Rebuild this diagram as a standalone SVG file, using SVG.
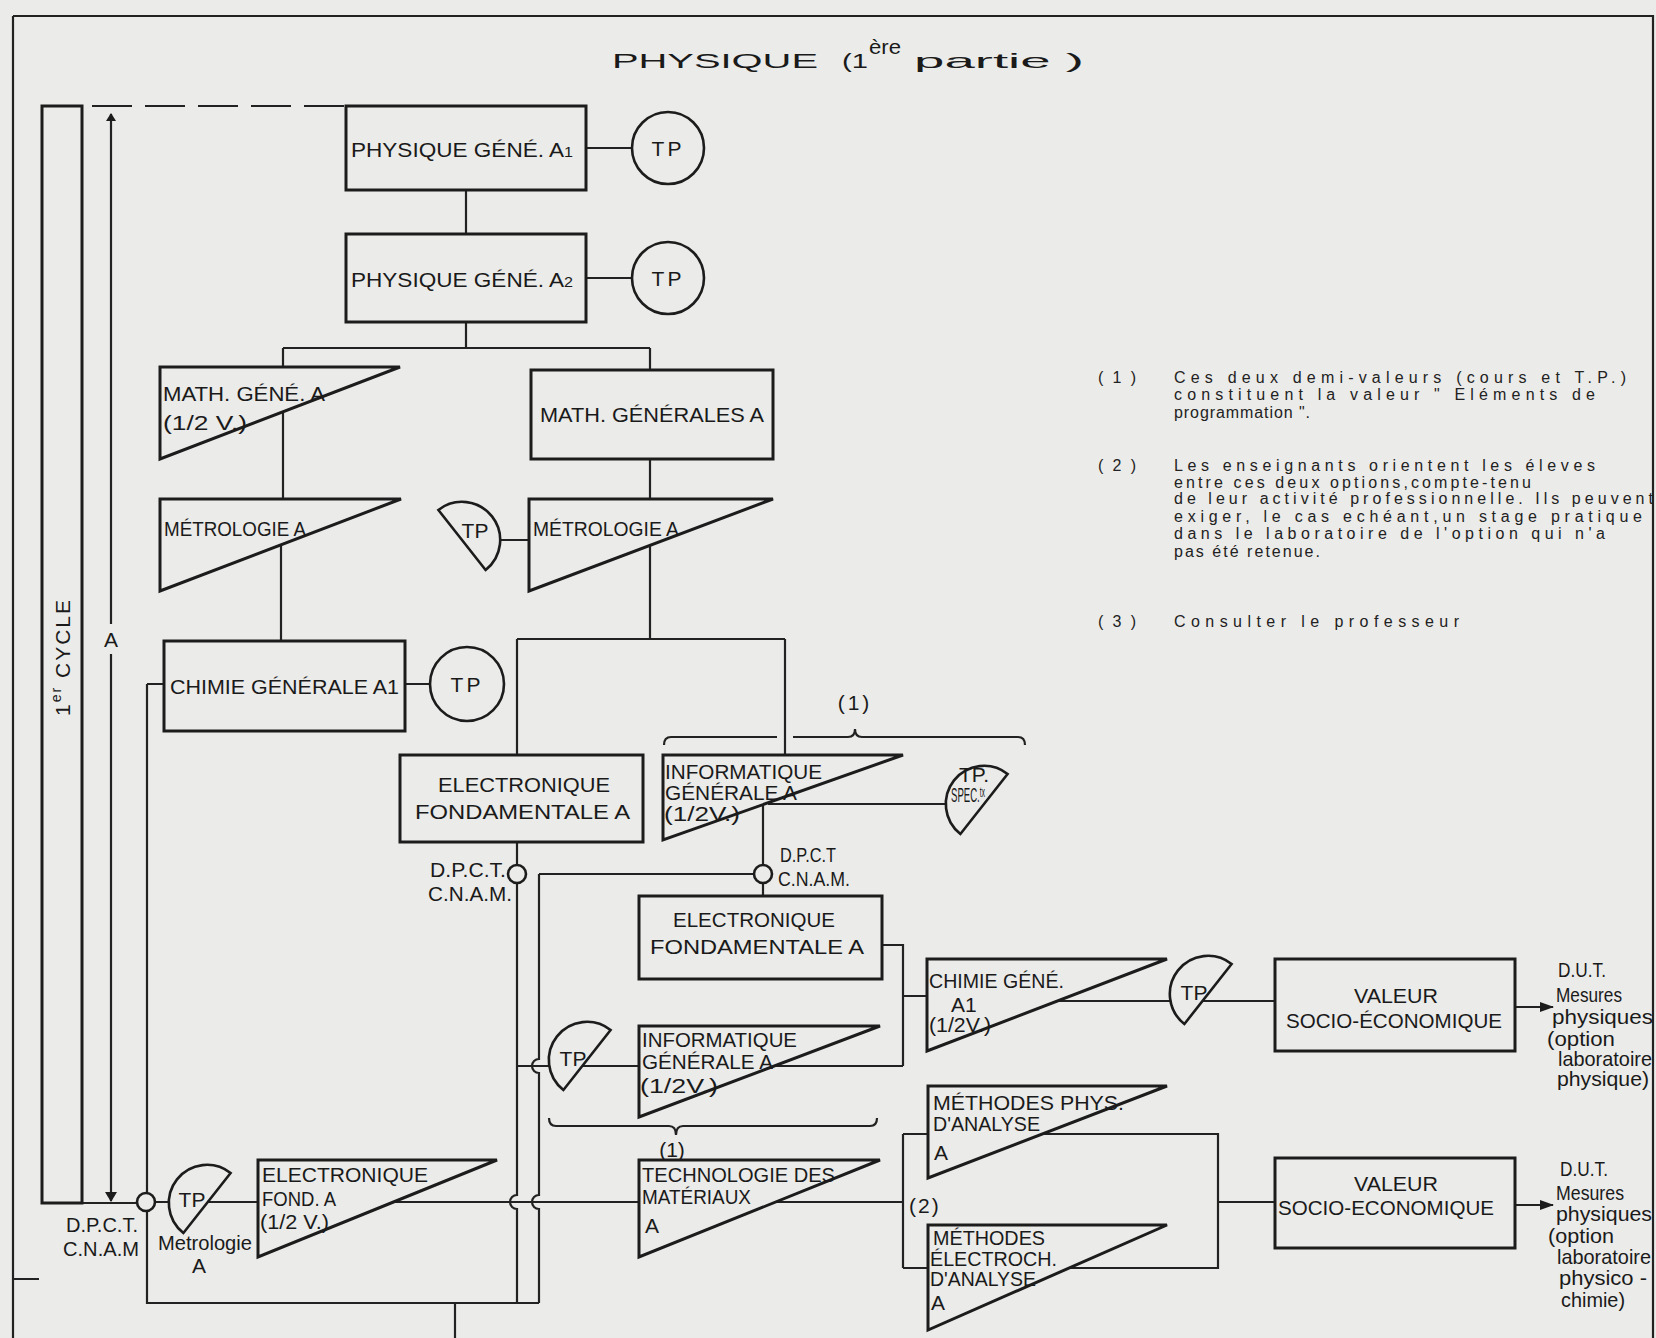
<svg xmlns="http://www.w3.org/2000/svg" width="1656" height="1338" viewBox="0 0 1656 1338">
<defs>
<style>
.bg{fill:#ebebe9}
.bx{fill:none;stroke:#1c1c1c;stroke-width:3}
.ln{fill:none;stroke:#222;stroke-width:2.2}
.tpf{fill:#ebebe9;stroke:#1c1c1c;stroke-width:2.6}
.t{font-family:"Liberation Sans",Arial,sans-serif;fill:#1a1a1a;font-size:21px}
.fn{font-family:"Liberation Sans",Arial,sans-serif;fill:#222;font-size:16px}
.m{text-anchor:middle}
.e{text-anchor:end}
</style>
<path id="tpR" d="M23.6,-30 A38,38 0 0 0 -23.6,30 Z"/>
<marker id="ah" markerWidth="14" markerHeight="10" refX="13" refY="5" orient="auto" markerUnits="userSpaceOnUse">
<path d="M0,0 L14,5 L0,10 Z" fill="#1c1c1c"/>
</marker>
<marker id="ahs" markerWidth="10" markerHeight="12" refX="9" refY="6" orient="auto" markerUnits="userSpaceOnUse">
<path d="M0,0 L10,6 L0,12 Z" fill="#1c1c1c"/>
</marker>
<marker id="ahst" markerWidth="8" markerHeight="10" refX="1" refY="5" orient="auto" markerUnits="userSpaceOnUse">
<path d="M8,0 L0,5 L8,10 Z" fill="#1c1c1c"/>
</marker>
</defs>
<rect class="bg" x="0" y="0" width="1656" height="1338"/>

<!-- frame -->
<g id="frame">
<path class="ln" d="M13,16 V1338 M13,16 H1653 V1338 M13,1279 H39"/>
</g>

<!-- title -->
<g id="title">
<text class="t" x="612" y="68" font-size="40" textLength="206" lengthAdjust="spacingAndGlyphs">PHYSIQUE</text>
<text class="t" x="842" y="68" font-size="40" textLength="26" lengthAdjust="spacingAndGlyphs">(1</text>
<text class="t" x="869" y="54" font-size="16" textLength="32" lengthAdjust="spacingAndGlyphs">ère</text>
<text class="t" x="914" y="68" font-size="40" textLength="170" lengthAdjust="spacingAndGlyphs">partie )</text>
</g>

<!-- connectors -->
<g id="connectors">
<path class="ln" d="M92,106 H346" stroke-dasharray="40 13"/>
<path class="ln" d="M111,114 V624" marker-start="url(#ahst)"/>
<path class="ln" d="M111,654 V1201" marker-end="url(#ahs)"/>
<path class="ln" d="M82,1203 H137"/>
<path class="ln" d="M147,684 H164 M147,684 V1193 M147,1211 V1303 H539 M455,1303 V1338"/>
<path class="ln" d="M155,1202 H258 M393,1202 H639 M776,1202 H903"/>
<path class="ln" d="M586,148 H632 M466,190 V234 M586,278 H632 M466,322 V348 M283,348 H650 M283,348 V367 M650,348 V370"/>
<path class="ln" d="M283,412 V499 M650,459 V499 M281,545 V641 M498,540 H529 M405,684 H430"/>
<path class="ln" d="M650,545 V639 M517,639 H785 M517,639 V755 M785,639 V755"/>
<path class="ln" d="M517,842 V865 M763,805 V865 M763,883 V896 M754,874 H539"/>
<path class="ln" d="M517,883 V1195 A7,7 0 0 0 517,1209 V1303"/>
<path class="ln" d="M539,874 V1059 A7,7 0 0 0 539,1073 V1195 A7,7 0 0 0 539,1209 V1303"/>
<path class="ln" d="M768,804 H950"/>
<path class="ln" d="M517,1066 H639 M774,1066 H903 M882,945 H903 V1066 M903,996 H927"/>
<path class="ln" d="M1057,1001 H1275"/>
<path class="ln" d="M903,1134 V1268 M903,1134 H928 M903,1268 H928 M1042,1134 H1218 V1268 H1069 M1218,1202 H1275"/>
<path class="ln" d="M1515,1007 H1553" marker-end="url(#ah)"/>
<path class="ln" d="M1515,1205 H1553" marker-end="url(#ah)"/>
<path class="ln" d="M664,745 Q664,737 671,737 H777 M793,737 H848 Q855,737 855,729 Q855,737 862,737 H1018 Q1025,737 1025,745"/>
<path class="ln" d="M549,1118 Q549,1126 556,1126 H669 Q676,1126 676,1135 Q676,1126 683,1126 H870 Q877,1126 877,1118"/>
</g>

<!-- left cycle bar -->
<g id="cycle">
<rect class="bx" x="42" y="106" width="40" height="1097"/>
<text class="t" transform="translate(70,657) rotate(-90)" text-anchor="middle" font-size="24" letter-spacing="2">1<tspan font-size="14" dy="-9">er</tspan><tspan dy="9"> CYCLE</tspan></text>
<text class="t m" x="111" y="647" font-size="22">A</text>
</g>

<g id="dpct-left">
<circle class="tpf" cx="146" cy="1202" r="9"/>
<text class="t e" x="138" y="1232" font-size="20" textLength="72" lengthAdjust="spacingAndGlyphs">D.P.C.T.</text>
<text class="t e" x="139" y="1256" font-size="20" textLength="76" lengthAdjust="spacingAndGlyphs">C.N.A.M</text>
</g>

<g id="tp-metro-bl">
<use href="#tpR" class="tpf" transform="translate(207,1203)"/>
<text class="t m" x="192" y="1207" font-size="21">TP</text>
<text class="t" x="158" y="1250" font-size="19" textLength="94" lengthAdjust="spacingAndGlyphs">Metrologie</text>
<text class="t m" x="199" y="1273" font-size="20">A</text>
</g>

<g id="phys-a1">
<rect class="bx" x="346" y="106" width="240" height="84"/>
<text class="t" x="351" y="157" textLength="222" lengthAdjust="spacingAndGlyphs">PHYSIQUE GÉNÉ. A<tspan font-size="15">1</tspan></text>
</g>
<g id="tp-a1">
<circle class="tpf" cx="668" cy="148" r="36"/>
<text class="t m" x="668" y="156" font-size="22" letter-spacing="3">TP</text>
</g>

<g id="phys-a2">
<rect class="bx" x="346" y="234" width="240" height="88"/>
<text class="t" x="351" y="287" textLength="222" lengthAdjust="spacingAndGlyphs">PHYSIQUE GÉNÉ. A<tspan font-size="15">2</tspan></text>
</g>
<g id="tp-a2">
<circle class="tpf" cx="668" cy="278" r="36"/>
<text class="t m" x="668" y="286" font-size="22" letter-spacing="3">TP</text>
</g>

<g id="math-gene">
<polygon class="bx" points="160,367 160,459 400,367"/>
<text class="t" x="163" y="401" textLength="162" lengthAdjust="spacingAndGlyphs">MATH. GÉNÉ. A</text>
<text class="t" x="163" y="430" textLength="84" lengthAdjust="spacingAndGlyphs">(1/2 V.)</text>
</g>

<g id="math-generales">
<rect class="bx" x="531" y="370" width="242" height="89"/>
<text class="t" x="540" y="422" textLength="224" lengthAdjust="spacingAndGlyphs">MATH. GÉNÉRALES A</text>
</g>

<g id="metro-left">
<polygon class="bx" points="160,499 160,591 401,499"/>
<text class="t" x="164" y="536" textLength="142" lengthAdjust="spacingAndGlyphs">MÉTROLOGIE A</text>
</g>

<g id="tp-metro">
<use href="#tpR" class="tpf" transform="translate(462,540) scale(-1,1)"/>
<text class="t m" x="475" y="538" font-size="21">TP</text>
</g>

<g id="metro-right">
<polygon class="bx" points="529,499 529,591 773,499"/>
<text class="t" x="533" y="536" textLength="146" lengthAdjust="spacingAndGlyphs">MÉTROLOGIE A</text>
</g>

<g id="chimie-a1">
<rect class="bx" x="164" y="641" width="241" height="90"/>
<text class="t" x="170" y="694" textLength="229" lengthAdjust="spacingAndGlyphs">CHIMIE  GÉNÉRALE A1</text>
</g>
<g id="tp-chimie">
<circle class="tpf" cx="467" cy="684" r="37"/>
<text class="t m" x="467" y="692" font-size="22" letter-spacing="3">TP</text>
</g>

<g id="elec-fond-1">
<rect class="bx" x="400" y="755" width="243" height="87"/>
<text class="t m" x="524" y="792" textLength="172" lengthAdjust="spacingAndGlyphs">ELECTRONIQUE</text>
<text class="t" x="415" y="819" textLength="215" lengthAdjust="spacingAndGlyphs">FONDAMENTALE   A</text>
</g>

<g id="dpct-mid">
<circle class="tpf" cx="517" cy="874" r="9"/>
<text class="t e" x="506" y="877" font-size="20" textLength="76" lengthAdjust="spacingAndGlyphs">D.P.C.T.</text>
<text class="t e" x="512" y="901" font-size="20" textLength="84" lengthAdjust="spacingAndGlyphs">C.N.A.M.</text>
</g>

<g id="info-1">
<polygon class="bx" points="663,755 663,840 903,755"/>
<text class="t" x="665" y="779" font-size="19" textLength="157" lengthAdjust="spacingAndGlyphs">INFORMATIQUE</text>
<text class="t" x="665" y="800" font-size="19" textLength="132" lengthAdjust="spacingAndGlyphs">GÉNÉRALE A</text>
<text class="t" x="664" y="821" font-size="19" textLength="76" lengthAdjust="spacingAndGlyphs">(1/2V.)</text>
<text class="t m" x="855" y="710" font-size="21" letter-spacing="3">(1)</text>
</g>

<g id="tp-spec">
<use href="#tpR" class="tpf" transform="translate(984,804)"/>
<text class="t m" x="974" y="782" font-size="14">TP.</text>
<text class="t m" x="968" y="802" font-size="10" textLength="34" lengthAdjust="spacingAndGlyphs">SPEC.ᵗˣ</text>
</g>

<g id="dpct-right">
<circle class="tpf" cx="763" cy="874" r="9"/>
<text class="t" x="780" y="862" font-size="20" textLength="56" lengthAdjust="spacingAndGlyphs">D.P.C.T</text>
<text class="t" x="778" y="886" font-size="20" textLength="72" lengthAdjust="spacingAndGlyphs">C.N.A.M.</text>
</g>

<g id="elec-fond-2">
<rect class="bx" x="639" y="896" width="243" height="83"/>
<text class="t m" x="754" y="927" textLength="162" lengthAdjust="spacingAndGlyphs">ELECTRONIQUE</text>
<text class="t" x="650" y="954" textLength="214" lengthAdjust="spacingAndGlyphs">FONDAMENTALE   A</text>
</g>

<g id="info-2">
<polygon class="bx" points="639,1026 639,1117 880,1026"/>
<text class="t" x="642" y="1047" font-size="19" textLength="155" lengthAdjust="spacingAndGlyphs">INFORMATIQUE</text>
<text class="t" x="642" y="1069" font-size="19" textLength="131" lengthAdjust="spacingAndGlyphs">GÉNÉRALE A</text>
<text class="t" x="640" y="1093" font-size="19" textLength="78" lengthAdjust="spacingAndGlyphs">(1/2V.)</text>
<text class="t m" x="672" y="1157" font-size="20">(1)</text>
</g>
<g id="tp-info">
<use href="#tpR" class="tpf" transform="translate(587,1060)"/>
<text class="t m" x="573" y="1066" font-size="21">TP</text>
</g>

<g id="elec-fond-half">
<polygon class="bx" points="258,1160 258,1257 497,1160"/>
<text class="t" x="262" y="1182" textLength="166" lengthAdjust="spacingAndGlyphs">ELECTRONIQUE</text>
<text class="t" x="262" y="1206" textLength="74" lengthAdjust="spacingAndGlyphs">FOND. A</text>
<text class="t" x="260" y="1229" font-size="19" textLength="69" lengthAdjust="spacingAndGlyphs">(1/2 V.)</text>
</g>

<g id="techno">
<polygon class="bx" points="639,1160 639,1257 880,1160"/>
<text class="t" x="642" y="1182" textLength="193" lengthAdjust="spacingAndGlyphs">TECHNOLOGIE DES</text>
<text class="t" x="642" y="1204" textLength="109" lengthAdjust="spacingAndGlyphs">MATÉRIAUX</text>
<text class="t" x="645" y="1233">A</text>
</g>

<g id="chimie-gene">
<polygon class="bx" points="927,959 927,1051 1167,959"/>
<text class="t" x="929" y="988" textLength="135" lengthAdjust="spacingAndGlyphs">CHIMIE GÉNÉ.</text>
<text class="t" x="951" y="1012" font-size="18">A1</text>
<text class="t" x="929" y="1032" font-size="15" textLength="62" lengthAdjust="spacingAndGlyphs">(1/2V.)</text>
</g>
<g id="tp-chimie-gene">
<use href="#tpR" class="tpf" transform="translate(1208,994)"/>
<text class="t m" x="1194" y="1000" font-size="21">TP</text>
</g>

<g id="valeur-1">
<rect class="bx" x="1275" y="959" width="240" height="92"/>
<text class="t m" x="1396" y="1003" textLength="84" lengthAdjust="spacingAndGlyphs">VALEUR</text>
<text class="t m" x="1394" y="1028" textLength="216" lengthAdjust="spacingAndGlyphs">SOCIO-ÉCONOMIQUE</text>
</g>
<g id="dut-1">
<text class="t" x="1558" y="977" font-size="20" textLength="48" lengthAdjust="spacingAndGlyphs">D.U.T.</text>
<text class="t" x="1556" y="1002" font-size="20" textLength="66" lengthAdjust="spacingAndGlyphs">Mesures</text>
<text class="t" x="1552" y="1024" font-size="20" textLength="101" lengthAdjust="spacingAndGlyphs">physiques</text>
<text class="t" x="1547" y="1046" font-size="20" textLength="68" lengthAdjust="spacingAndGlyphs">(option</text>
<text class="t" x="1558" y="1066" font-size="19" textLength="94" lengthAdjust="spacingAndGlyphs">laboratoire</text>
<text class="t" x="1557" y="1086" font-size="20" textLength="92" lengthAdjust="spacingAndGlyphs">physique)</text>
</g>

<g id="methodes-phys">
<polygon class="bx" points="928,1086 928,1178 1167,1086"/>
<text class="t" x="933" y="1110" textLength="191" lengthAdjust="spacingAndGlyphs">MÉTHODES PHYS.</text>
<text class="t" x="933" y="1131" textLength="107" lengthAdjust="spacingAndGlyphs">D'ANALYSE</text>
<text class="t" x="934" y="1160">A</text>
<text class="t" x="909" y="1213" font-size="21" letter-spacing="2">(2)</text>
</g>

<g id="methodes-electroch">
<polygon class="bx" points="928,1225 928,1330 1167,1225"/>
<text class="t" x="933" y="1245" textLength="112" lengthAdjust="spacingAndGlyphs">MÉTHODES</text>
<text class="t" x="930" y="1266" textLength="127" lengthAdjust="spacingAndGlyphs">ÉLECTROCH.</text>
<text class="t" x="930" y="1286" textLength="106" lengthAdjust="spacingAndGlyphs">D'ANALYSE</text>
<text class="t" x="931" y="1310">A</text>
</g>

<g id="valeur-2">
<rect class="bx" x="1275" y="1158" width="240" height="90"/>
<text class="t m" x="1396" y="1191" textLength="84" lengthAdjust="spacingAndGlyphs">VALEUR</text>
<text class="t m" x="1386" y="1215" textLength="216" lengthAdjust="spacingAndGlyphs">SOCIO-ECONOMIQUE</text>
</g>
<g id="dut-2">
<text class="t" x="1560" y="1176" font-size="20" textLength="48" lengthAdjust="spacingAndGlyphs">D.U.T.</text>
<text class="t" x="1556" y="1200" font-size="20" textLength="68" lengthAdjust="spacingAndGlyphs">Mesures</text>
<text class="t" x="1556" y="1221" font-size="20" textLength="96" lengthAdjust="spacingAndGlyphs">physiques</text>
<text class="t" x="1548" y="1243" font-size="19" textLength="66" lengthAdjust="spacingAndGlyphs">(option</text>
<text class="t" x="1557" y="1264" font-size="19" textLength="94" lengthAdjust="spacingAndGlyphs">laboratoire</text>
<text class="t" x="1559" y="1285" font-size="18" textLength="88" lengthAdjust="spacingAndGlyphs">physico -</text>
<text class="t" x="1561" y="1307" font-size="18" textLength="64" lengthAdjust="spacingAndGlyphs">chimie)</text>
</g>

<!-- footnotes -->
<g id="notes">
<text class="fn" x="1098" y="383" textLength="38" lengthAdjust="spacing">( 1 )</text>
<text class="fn" x="1174" y="383" textLength="452" lengthAdjust="spacing">Ces deux  demi-valeurs (cours et T.P.)</text>
<text class="fn" x="1174" y="400" textLength="421" lengthAdjust="spacing">constituent la valeur " Eléments  de</text>
<text class="fn" x="1174" y="418" textLength="136" lengthAdjust="spacing">programmation ".</text>
<text class="fn" x="1098" y="471" textLength="38" lengthAdjust="spacing">( 2 )</text>
<text class="fn" x="1174" y="471" textLength="421" lengthAdjust="spacing">Les  enseignants  orientent les éleves</text>
<text class="fn" x="1174" y="488" textLength="357" lengthAdjust="spacing">entre ces deux options,compte-tenu</text>
<text class="fn" x="1174" y="504" textLength="479" lengthAdjust="spacing">de leur activité professionnelle. Ils peuvent</text>
<text class="fn" x="1174" y="522" textLength="468" lengthAdjust="spacing">exiger, le cas echéant,un stage pratique</text>
<text class="fn" x="1174" y="539" textLength="431" lengthAdjust="spacing">dans le laboratoire de l'option qui n'a</text>
<text class="fn" x="1174" y="557" textLength="146" lengthAdjust="spacing">pas été retenue.</text>
<text class="fn" x="1098" y="627" textLength="38" lengthAdjust="spacing">( 3 )</text>
<text class="fn" x="1174" y="627" textLength="285" lengthAdjust="spacing">Consulter  le professeur</text>
</g>
</svg>
